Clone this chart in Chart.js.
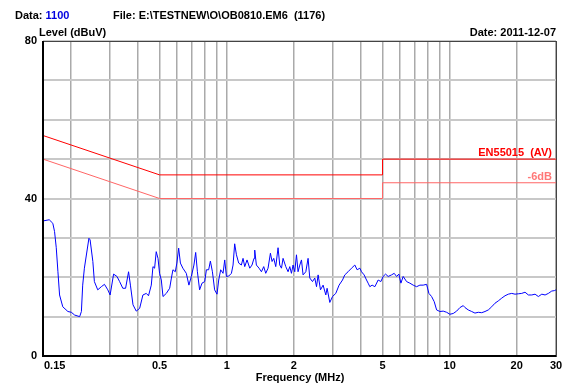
<!DOCTYPE html>
<html>
<head>
<meta charset="utf-8">
<script src="https://cdn.jsdelivr.net/npm/chart.js@4/dist/chart.umd.min.js"></script>
<style>
  html, body { margin: 0; padding: 0; background: #fff; }
  #wrap { width: 570px; height: 383px; position: relative; }
</style>
</head>
<body>
<div id="wrap"><canvas id="emcChart" width="570" height="383"></canvas></div>
<script>
const freqs = [
  0.150, 0.160, 0.166, 0.169, 0.172, 0.175, 0.178, 0.184, 0.194, 0.201, 0.208, 0.219, 0.223, 0.226, 0.230,
  0.241, 0.244, 0.251, 0.255, 0.264, 0.274, 0.283, 0.293, 0.300, 0.311, 0.322, 0.331, 0.342, 0.352, 0.363,
  0.370, 0.380, 0.393, 0.407, 0.421, 0.436, 0.446, 0.459, 0.467, 0.475, 0.483, 0.492, 0.500, 0.509, 0.518,
  0.536, 0.555, 0.565, 0.574, 0.588, 0.598, 0.609, 0.620, 0.636, 0.659, 0.677, 0.694, 0.713, 0.726, 0.739,
  0.756, 0.775, 0.797, 0.811, 0.830, 0.845, 0.863, 0.883, 0.905, 0.921, 0.940, 0.963, 0.980, 0.997, 1.021,
  1.050, 1.068, 1.086, 1.106, 1.132, 1.164, 1.184, 1.205, 1.234, 1.269, 1.299, 1.326, 1.336, 1.359, 1.397,
  1.432, 1.466, 1.497, 1.533, 1.571, 1.598, 1.626, 1.660, 1.700, 1.730, 1.761, 1.790, 1.841, 1.885, 1.919,
  1.952, 1.985, 2.020, 2.056, 2.090, 2.128, 2.165, 2.201, 2.264, 2.318, 2.359, 2.426, 2.484, 2.529, 2.571,
  2.635, 2.707, 2.784, 2.821, 2.901, 2.983, 3.086, 3.193, 3.308, 3.387, 3.504, 3.630, 3.756, 3.847, 3.956,
  4.025, 4.135, 4.239, 4.310, 4.386, 4.491, 4.620, 4.780, 4.915, 5.033, 5.160, 5.301, 5.490, 5.640, 5.782,
  5.920, 6.045, 6.190, 6.411, 6.633, 6.863, 7.110, 7.356, 7.611, 7.884, 8.073, 8.301, 8.528, 8.743, 9.046,
  9.359, 9.695, 10.03, 10.38, 10.75, 11.12, 11.51, 11.72, 12.12, 12.56, 12.99, 13.44, 13.93, 14.41, 14.91,
  15.44, 15.97, 16.53, 17.13, 17.72, 18.33, 18.99, 19.65, 20.33, 21.06, 21.79, 22.55, 23.36, 24.17, 25.00,
  25.91, 26.80, 27.73, 28.71, 29.50, 30.00
];
const levels = [
  34.3, 34.6, 33.7, 31.6, 27.5, 21.4, 15.5, 12.5, 11.3, 11.1, 10.4, 10.0, 11.3, 18.0, 22.3,
  29.9, 29.5, 24.0, 18.9, 16.8, 17.6, 18.2, 16.8, 15.5, 20.8, 20.2, 18.9, 17.2, 17.2, 21.4,
  18.0, 13.0, 11.4, 12.1, 15.5, 15.9, 15.3, 18.0, 22.7, 22.3, 26.5, 24.8, 21.0, 19.3, 15.1,
  15.9, 17.2, 19.8, 21.9, 21.4, 23.6, 27.4, 23.6, 22.3, 21.0, 18.0, 20.2, 23.1, 26.3, 21.4,
  16.8, 18.5, 18.9, 21.9, 21.9, 24.1, 21.4, 16.8, 15.7, 19.3, 21.9, 21.0, 24.4, 20.2, 20.3,
  21.0, 23.1, 28.5, 25.7, 23.6, 23.1, 24.8, 22.7, 24.4, 22.3, 23.1, 24.8, 26.9, 23.1, 22.3,
  21.4, 22.7, 21.0, 22.3, 26.1, 24.0, 24.8, 22.7, 27.5, 23.1, 22.3, 24.8, 22.7, 21.4, 22.7,
  21.0, 23.1, 21.4, 25.7, 21.4, 23.1, 24.4, 20.6, 21.4, 24.8, 19.8, 18.9, 19.8, 17.6, 20.6,
  16.8, 18.0, 15.5, 17.2, 13.6, 15.1, 15.9, 18.0, 19.3, 20.6, 21.4, 22.3, 23.1, 21.9, 22.3,
  21.4, 20.6, 19.3, 18.5, 17.6, 18.0, 17.6, 19.3, 18.9, 20.2, 20.8, 20.2, 20.6, 21.0, 20.2,
  20.8, 18.5, 20.2, 18.9, 18.5, 18.0, 17.6, 18.0, 18.0, 18.2, 15.9, 15.1, 13.8, 11.7, 11.3,
  11.4, 11.1, 10.6, 10.8, 11.4, 12.3, 12.8, 12.3, 11.7, 11.3, 10.9, 11.1, 11.0, 11.3, 11.7,
  12.5, 13.4, 14.0, 14.7, 15.3, 15.7, 15.9, 15.7, 15.8, 15.9, 16.2, 15.5, 15.5, 15.7, 15.1,
  15.7, 15.5, 15.9, 16.5, 16.6, 16.8
];

// EN55015 (AV) limit and the -6dB line
const limitFreqs = [0.15, 0.5, 5, 5, 30];
const limitAV = [56, 46, 46, 50, 50];
const limitMinus6 = [50, 40, 40, 44, 44];

// axis ticks
const xGridTicks = [0.15, 0.2, 0.3, 0.4, 0.5, 0.6, 0.7, 0.8, 0.9, 1, 2, 3, 4, 5, 6, 7, 8, 9, 10, 20, 30];
const xTickLabels = ['0.15', '0.5', '1', '2', '5', '10', '20', '30'];
const yTickLabels = [0, 40, 80];

const FONT = '"Liberation Sans", Arial, sans-serif';

function toPoints(xs, ys) {
  return xs.map((x, i) => ({ x: x, y: ys[i] }));
}

// draws header, tick labels, frame and limit labels
const decorations = {
  id: 'decorations',
  afterDraw(chart) {
    const ctx = chart.ctx;
    const area = chart.chartArea;
    const xs = chart.scales.x;
    const ys = chart.scales.y;
    ctx.save();

    // frame
    ctx.strokeStyle = '#444';
    ctx.lineWidth = 1;
    ctx.strokeRect(area.left + 0.5, area.top + 0.5, area.right - area.left, area.bottom - area.top);
    ctx.strokeStyle = '#000';
    ctx.lineWidth = 2;
    ctx.beginPath();
    ctx.moveTo(area.left, area.top);
    ctx.lineTo(area.left, area.bottom);
    ctx.lineTo(area.right, area.bottom);
    ctx.stroke();

    ctx.font = 'bold 11px ' + FONT;
    ctx.fillStyle = '#000';
    ctx.textBaseline = 'middle';

    // y labels
    ctx.textAlign = 'right';
    yTickLabels.forEach(v => ctx.fillText(String(v), area.left - 6, ys.getPixelForValue(v)));

    // x labels
    ctx.textBaseline = 'top';
    xTickLabels.forEach(lbl => {
      const v = parseFloat(lbl);
      const px = xs.getPixelForValue(v);
      ctx.textAlign = lbl === '0.15' ? 'left' : 'center';
      ctx.fillText(lbl, lbl === '0.15' ? px + 1 : px, area.bottom + 4);
    });
    ctx.textAlign = 'center';
    ctx.fillText('Frequency (MHz)', 300, 372);

    // header
    ctx.textBaseline = 'alphabetic';
    ctx.textAlign = 'left';
    ctx.fillText('Data:', 15, 19);
    const w = ctx.measureText('Data: ').width;
    ctx.fillStyle = '#0000e0';
    ctx.fillText('1100', 15 + w, 19);
    ctx.fillStyle = '#000';
    ctx.fillText('File: E:\\TESTNEW\\O\\OB0810.EM6  (1176)', 113, 19);
    ctx.fillText('Level (dBuV)', 39, 36);
    ctx.textAlign = 'right';
    ctx.fillText('Date: 2011-12-07', area.right, 36);

    // limit labels
    ctx.fillStyle = '#ff0000';
    ctx.fillText('EN55015  (AV)', area.right - 4, ys.getPixelForValue(50) - 3);
    ctx.fillStyle = '#ff7878';
    ctx.fillText('-6dB', area.right - 4, ys.getPixelForValue(44) - 3);
    ctx.restore();
  }
};

const ctx = document.getElementById('emcChart').getContext('2d');
const emcChart = new Chart(ctx, {
  type: 'line',
  data: {
    datasets: [
      {
        label: 'Level',
        data: toPoints(freqs, levels),
        borderColor: '#0000ff',
        borderWidth: 1,
        pointRadius: 0,
        tension: 0,
        order: 1
      },
      {
        label: 'EN55015 (AV)',
        data: toPoints(limitFreqs, limitAV),
        borderColor: '#ff0000',
        borderWidth: 1,
        pointRadius: 0,
        tension: 0,
        order: 2
      },
      {
        label: '-6dB',
        data: toPoints(limitFreqs, limitMinus6),
        borderColor: '#ff6666',
        borderWidth: 1,
        pointRadius: 0,
        tension: 0,
        order: 3
      }
    ]
  },
  options: {
    responsive: false,
    animation: false,
    layout: { padding: { left: 43, right: 14, top: 41, bottom: 27 } },
    scales: {
      x: {
        type: 'logarithmic',
        min: 0.15,
        max: 30,
        afterBuildTicks: axis => { axis.ticks = xGridTicks.map(v => ({ value: v })); },
        ticks: { display: false },
        grid: { color: '#aaaaaa', lineWidth: 1.5, drawTicks: false },
        border: { display: false }
      },
      y: {
        min: 0,
        max: 80,
        ticks: { display: false, stepSize: 10 },
        grid: { color: '#c8c8c8', lineWidth: 2, drawTicks: false },
        border: { display: false }
      }
    },
    plugins: {
      legend: { display: false },
      tooltip: { enabled: false }
    }
  },
  plugins: [decorations]
});
</script>
</body>
</html>
